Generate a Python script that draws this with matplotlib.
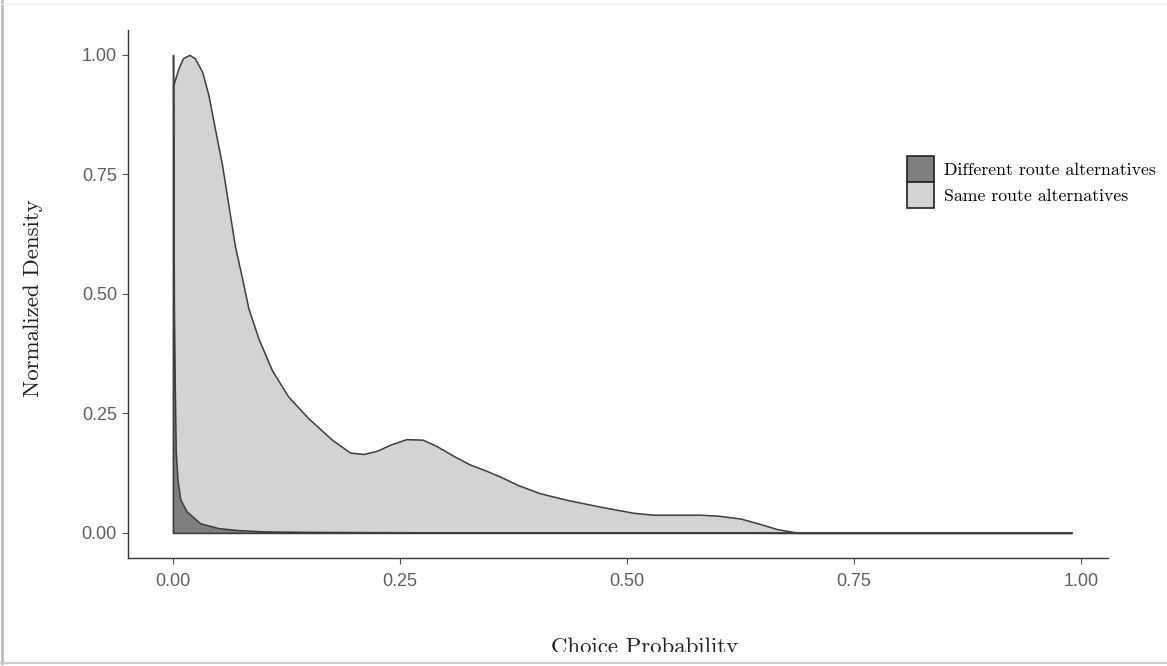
import numpy as np
import matplotlib
matplotlib.use("Agg")
from matplotlib import pyplot as plt
from matplotlib.lines import Line2D
from matplotlib.patches import Rectangle
from matplotlib.transforms import Bbox, TransformedBbox

same_x = [0.0, 0.006, 0.011, 0.018, 0.024, 0.032, 0.039, 0.046, 0.054, 0.061,
          0.068, 0.076, 0.083, 0.094, 0.109, 0.127, 0.149, 0.175, 0.195, 0.21,
          0.225, 0.24, 0.257, 0.275, 0.29, 0.31, 0.327, 0.345, 0.36, 0.38,
          0.404, 0.434, 0.47, 0.507, 0.529, 0.58, 0.6, 0.625, 0.646, 0.665,
          0.68, 0.69, 0.75, 0.85, 0.99]
same_y = [0.935, 0.972, 0.993, 1.0, 0.993, 0.965, 0.916, 0.847, 0.77, 0.686,
          0.602, 0.533, 0.47, 0.407, 0.34, 0.285, 0.24, 0.195, 0.168, 0.165,
          0.172, 0.185, 0.196, 0.195, 0.182, 0.16, 0.143, 0.13, 0.118, 0.1,
          0.083, 0.069, 0.055, 0.042, 0.038, 0.038, 0.036, 0.03, 0.019, 0.008,
          0.003, 0.0, 0.0, 0.0, 0.0]

diff_x = [0.0, 0.001, 0.002, 0.003, 0.005, 0.008, 0.015, 0.03, 0.05, 0.07,
          0.1, 0.15, 0.3, 0.5, 0.69, 0.99]
diff_y = [1.0, 0.47, 0.3, 0.17, 0.11, 0.07, 0.045, 0.02, 0.01, 0.006,
          0.003, 0.002, 0.001, 0.001, 0.0, 0.0]

labels = ["Different route alternatives", "Same route alternatives"]
x_ticks = [0.0, 0.25, 0.5, 0.75, 1.0]
y_ticks = [0.0, 0.25, 0.5, 0.75, 1.0]

DARK = "#7f7f7f"
LIGHT = "#d3d3d3"
EDGE = "#3d3d3d"
SERIF = ["cmr10", "DejaVu Serif"]

fig = plt.figure(figsize=(11.67, 6.66), dpi=100)
ax = fig.add_axes([128 / 1167, 1 - 557.7 / 666, (1108 - 128) / 1167, (557.7 - 30) / 666])

ax.fill_between(same_x, same_y, color=LIGHT, edgecolor=EDGE, linewidth=1.1, zorder=2)
ax.fill_between(diff_x, diff_y, color=DARK, edgecolor=EDGE, linewidth=1.1, zorder=3)

ax.set_xlim(-0.0496, 1.03)
ax.set_ylim(-0.052, 1.052)
ax.set_xticks(x_ticks)
ax.set_yticks(y_ticks)
ax.set_xticklabels([f"{t:.2f}" for t in x_ticks])
ax.set_yticklabels([f"{t:.2f}" for t in y_ticks])
ax.tick_params(length=4, width=0.8, color="#555555", labelcolor="#5e5e5e",
               labelsize=13, pad=4)
ax.tick_params(axis="x", pad=7)
for lab in ax.get_xticklabels() + ax.get_yticklabels():
    lab.set_family(["Liberation Sans", "DejaVu Sans"])

for side in ["top", "right"]:
    ax.spines[side].set_visible(False)
for side in ["left", "bottom"]:
    ax.spines[side].set_color("#333333")
    ax.spines[side].set_linewidth(1.0)

fig.text(33 / 1167, 1 - 298 / 666, "Normalized Density", rotation=90,
         ha="center", va="center", fontsize=16.5, family=SERIF, color="#222222")
fig.text(645 / 1167, 1 - 647 / 666, "Choice Probability",
         ha="center", va="center", fontsize=16.5, family=SERIF, color="#222222")

handles = [Rectangle((0, 0), 1, 1, facecolor=DARK, edgecolor="#222222", linewidth=1.2),
           Rectangle((0, 0), 1, 1, facecolor=LIGHT, edgecolor="#222222", linewidth=1.2)]
leg = fig.legend(handles, labels, loc="upper left",
                 bbox_to_anchor=(907 / 1167, 1 - 156 / 666), frameon=False,
                 borderpad=0, borderaxespad=0, labelspacing=0.0,
                 handlelength=1.52, handleheight=1.87, handletextpad=0.55,
                 prop={"family": SERIF, "size": 12.8})
# the legend text is cut off at the right in the original
clip = TransformedBbox(Bbox([[0, 0], [1156 / 1167, 1]]), fig.transFigure)
for t in leg.get_texts():
    t.set_clip_box(clip)
    t.set_clip_on(True)

# grey frame of the screenshot, bottom strip cuts the x label
fig.patches.append(Rectangle((0, 0), 1, 1 - 652 / 666, transform=fig.transFigure,
                             facecolor="white", edgecolor="none", zorder=5))
fig.add_artist(Line2D([1.5 / 1167, 1.5 / 1167], [1 - 663 / 666, 1], transform=fig.transFigure,
                      color="#bbbbbb", linewidth=2, zorder=6))
fig.add_artist(Line2D([0, 1], [1 - 663 / 666, 1 - 663 / 666], transform=fig.transFigure,
                      color="#cccccc", linewidth=1.5, zorder=6))
fig.add_artist(Line2D([0, 1], [1 - 4 / 666, 1 - 4 / 666], transform=fig.transFigure,
                      color="#eeeeee", linewidth=1, zorder=6))

fig.savefig("out.png", dpi=100)
